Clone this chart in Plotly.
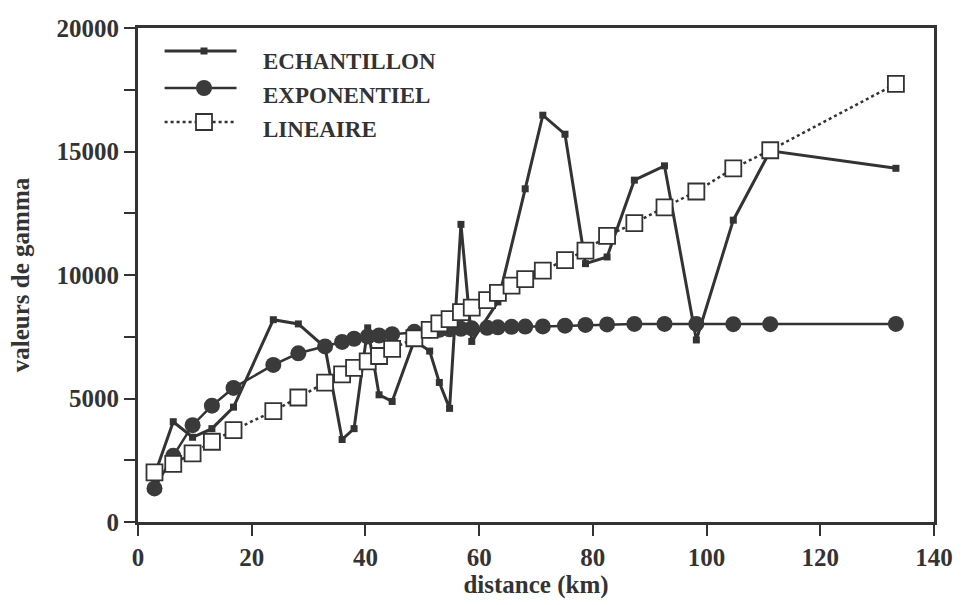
import plotly.graph_objects as go

# Lag distances (km) of the variogram classes
lag_km = [2.9, 6.2, 9.6, 13.0, 16.8, 23.8, 28.2, 32.9, 35.9, 38.0, 40.4, 42.4,
          44.7, 48.6, 51.3, 53.0, 54.8, 56.8, 58.7, 61.4, 63.3, 65.7, 68.1,
          71.2, 75.1, 78.7, 82.5, 87.3, 92.6, 98.2, 104.7, 111.2, 133.3]

# Experimental variogram (some lag classes are empty)
ech_lag = [2.9, 6.2, 9.6, 13.0, 16.8, 23.8, 28.2, 32.9, 35.9, 38.0, 40.4, 42.4,
           44.7, 48.6, 51.3, 53.0, 54.8, 56.8, 58.7, 63.3, 68.1, 71.2, 75.1,
           78.7, 82.5, 87.3, 92.6, 98.2, 104.7, 111.2, 133.3]
ech_gamma = [1890, 4060, 3430, 3780, 4650, 8190, 8020, 7070, 3340, 3780, 7860, 5150,
             4880, 7350, 6920, 5650, 4600, 12050, 7310, 8910, 13490, 16470, 15700,
             10460, 10730, 13840, 14420, 7370, 12220, 15030, 14320]

# Fitted models evaluated at the lag distances
exp_gamma = [1360, 2680, 3920, 4710, 5430, 6360, 6830, 7110, 7290, 7420, 7510, 7550,
             7600, 7700, 7750, 7780, 7800, 7820, 7840, 7860, 7880, 7900, 7910,
             7920, 7950, 7980, 8000, 8020, 8020, 8020, 8010, 8010, 8020]
lin_gamma = [2010, 2350, 2780, 3250, 3720, 4490, 5040, 5640, 5980, 6240, 6500, 6720,
             7010, 7440, 7780, 8040, 8210, 8500, 8680, 8980, 9280, 9570, 9830,
             10180, 10600, 10990, 11580, 12100, 12740, 13380, 14320, 15050, 17740]

series_names = ["ECHANTILLON", "EXPONENTIEL", "LINEAIRE"]
x_ticks = [0, 20, 40, 60, 80, 100, 120, 140]
y_ticks = [0, 2500, 5000, 7500, 10000, 12500, 15000, 17500, 20000]
y_ticktext = [str(v) if v % 5000 == 0 else "" for v in y_ticks]

INK = "#333333"
SERIF = "Liberation Serif, Times New Roman, serif"

# page geometry (pixels)
W, H = 965, 605
L, R, T, B = 138, 946, 28, 522

ech_style = dict(mode="lines+markers",
                 line=dict(color=INK, width=3),
                 marker=dict(symbol="square", size=7, color=INK))
exp_style = dict(mode="lines+markers",
                 line=dict(color=INK, width=2.5),
                 marker=dict(symbol="circle", size=16, color="#3a3a3a"))
lin_style = dict(mode="lines+markers",
                 line=dict(color=INK, width=2.5, dash="dot"),
                 marker=dict(symbol="square", size=16, color="white",
                             line=dict(color=INK, width=1.8)))

fig = go.Figure()
fig.add_trace(go.Scatter(x=ech_lag, y=ech_gamma, name=series_names[0], **ech_style))
fig.add_trace(go.Scatter(x=lag_km, y=exp_gamma, name=series_names[1], **exp_style))
fig.add_trace(go.Scatter(x=lag_km, y=lin_gamma, name=series_names[2], **lin_style))

# hand-drawn legend on a pixel-based overlay axis
key_x0, key_x1, key_mid = 165, 238, 205
key_line_y = [51, 88, 122]
key_text_x = 263
key_text_y = [61, 95, 129]
for style, ly, ty, name in zip([ech_style, exp_style, lin_style], key_line_y,
                               key_text_y, series_names):
    fig.add_trace(go.Scatter(x=[key_x0, key_x1], y=[ly, ly], mode="lines",
                             line=style["line"], xaxis="x2", yaxis="y2",
                             showlegend=False, hoverinfo="skip"))
    fig.add_trace(go.Scatter(x=[key_mid], y=[ly], mode="markers",
                             marker=style["marker"], xaxis="x2", yaxis="y2",
                             showlegend=False, hoverinfo="skip"))
    fig.add_annotation(x=key_text_x, y=ty, xref="x2", yref="y2", text=name,
                       showarrow=False, xanchor="left", yanchor="middle",
                       font=dict(family=SERIF, size=23, color=INK, weight="bold"))

axis_common = dict(showline=True, linewidth=3, linecolor=INK, mirror=True,
                   ticks="outside", ticklen=11, tickwidth=2, tickcolor=INK,
                   showgrid=False, zeroline=False,
                   tickfont=dict(family=SERIF, size=25, color=INK, weight="bold"))

fig.update_layout(
    width=W, height=H,
    margin=dict(l=L, r=W - R, t=T, b=H - B),
    paper_bgcolor="white", plot_bgcolor="white",
    showlegend=False,
    xaxis=dict(range=[0, 140], tickvals=x_ticks,
               title=dict(text="distance (km)", standoff=2,
                          font=dict(family=SERIF, size=25, color=INK, weight="bold")),
               **axis_common),
    yaxis=dict(range=[0, 20000], tickvals=y_ticks, ticktext=y_ticktext,
               title=dict(text="valeurs de gamma", standoff=20,
                          font=dict(family=SERIF, size=25, color=INK, weight="bold")),
               **axis_common),
    xaxis2=dict(range=[L, R], overlaying="x", visible=False, fixedrange=True),
    yaxis2=dict(range=[B, T], overlaying="y", visible=False, fixedrange=True),
)

fig.write_html("out.html")
